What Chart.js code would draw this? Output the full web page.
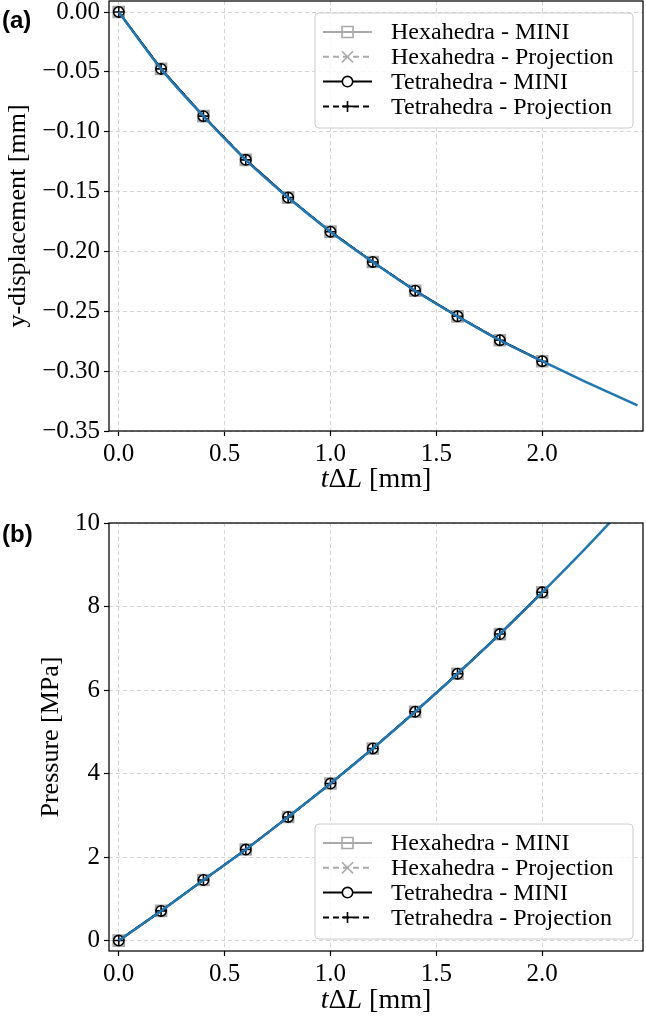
<!DOCTYPE html>
<html>
<head>
<meta charset="utf-8">
<script src="https://cdn.jsdelivr.net/npm/chart.js@4.4.1/dist/chart.umd.min.js"></script>
<style>
  html, body { margin: 0; padding: 0; background: #fff; }
  canvas { display: block; }
</style>
</head>
<body>
<canvas id="chartA" width="646" height="500"></canvas>
<canvas id="chartB" width="646" height="519"></canvas>
<script>
// load steps t*dL [mm] where the meshes were evaluated
var nodeT = [0.0, 0.2, 0.4, 0.6, 0.8, 1.0, 1.2, 1.4, 1.6, 1.8, 2.0];
// reference curve abscissae
var refT = [0.0, 0.2, 0.4, 0.6, 0.8, 1.0, 1.2, 1.4, 1.6, 1.8, 2.0, 2.2, 2.45];

// (a) y-displacement [mm]
var dispHexMini = [0.0, -0.0475, -0.0870, -0.1235, -0.1550, -0.1835, -0.2088, -0.2328, -0.2542, -0.2742, -0.2917];
var dispHexProj = [0.0, -0.0475, -0.0870, -0.1235, -0.1550, -0.1835, -0.2088, -0.2328, -0.2542, -0.2742, -0.2917];
var dispTetMini = [0.0, -0.0475, -0.0870, -0.1235, -0.1550, -0.1835, -0.2088, -0.2328, -0.2542, -0.2742, -0.2917];
var dispTetProj = [0.0, -0.0475, -0.0870, -0.1235, -0.1550, -0.1835, -0.2088, -0.2328, -0.2542, -0.2742, -0.2917];
var dispRef = [0.0, -0.0475, -0.0870, -0.1235, -0.1550, -0.1835, -0.2088, -0.2328, -0.2542, -0.2742, -0.2917, -0.3085, -0.3286];

// (b) pressure [MPa]
var presHexMini = [0.0, 0.71, 1.45, 2.18, 2.96, 3.76, 4.60, 5.48, 6.39, 7.34, 8.34];
var presHexProj = [0.0, 0.71, 1.45, 2.18, 2.96, 3.76, 4.60, 5.48, 6.39, 7.34, 8.34];
var presTetMini = [0.0, 0.71, 1.45, 2.18, 2.96, 3.76, 4.60, 5.48, 6.39, 7.34, 8.34];
var presTetProj = [0.0, 0.71, 1.45, 2.18, 2.96, 3.76, 4.60, 5.48, 6.39, 7.34, 8.34];
var presRef = [0.0, 0.71, 1.45, 2.18, 2.96, 3.76, 4.60, 5.48, 6.39, 7.34, 8.34, 9.37, 10.72];

var seriesNames = ['Hexahedra - MINI', 'Hexahedra - Projection', 'Tetrahedra - MINI', 'Tetrahedra - Projection'];

var xTicks = [0.0, 0.5, 1.0, 1.5, 2.0];
var xTickLabels = ['0.0', '0.5', '1.0', '1.5', '2.0'];
var yTicksA = [0.00, -0.05, -0.10, -0.15, -0.20, -0.25, -0.30, -0.35];
var yTickLabelsA = ['0.00', '\u22120.05', '\u22120.10', '\u22120.15', '\u22120.20', '\u22120.25', '\u22120.30', '\u22120.35'];
var yTicksB = [0, 2, 4, 6, 8, 10];
var yTickLabelsB = ['0', '2', '4', '6', '8', '10'];

var SERIF = '"Liberation Serif", "Times New Roman", serif';
var GREY = '#a9a9a9';
var BLUE = '#1f77b4';

Chart.defaults.font.family = SERIF;
Chart.defaults.color = '#000';

function pts(xs, ys) {
    return xs.map(function(x, i) { return {x: x, y: ys[i]}; });
}

function labelFor(ticks, labels) {
    return function(value) {
        for (var i = 0; i < ticks.length; i++) {
            if (Math.abs(ticks[i] - value) < 1e-9) return labels[i];
        }
        return '';
    };
}

// marker styles shared by plot and legend
var styles = [
    {color: GREY, dash: [], point: 'rect', radius: 7.8, fill: 'rgba(0,0,0,0)', order: 4},
    {color: GREY, dash: [6, 4], point: 'crossRot', radius: 7.8, fill: 'rgba(0,0,0,0)', order: 3},
    {color: '#000', dash: [], point: 'circle', radius: 5.2, fill: '#fff', order: 2},
    {color: '#000', dash: [6, 4], point: 'cross', radius: 5.5, fill: 'rgba(0,0,0,0)', order: 1}
];

function makeDatasets(series, refY) {
    var sets = series.map(function(ys, i) {
        var s = styles[i];
        return {
            label: seriesNames[i],
            data: pts(nodeT, ys),
            borderColor: s.color,
            borderWidth: 2,
            borderDash: s.dash,
            pointStyle: s.point,
            pointRadius: s.radius,
            pointBorderColor: s.color,
            pointBackgroundColor: s.fill,
            pointBorderWidth: 1.6,
            order: s.order
        };
    });
    sets.push({
        label: 'reference',
        data: pts(refT, refY),
        borderColor: BLUE,
        borderWidth: 2.5,
        pointRadius: 0,
        cubicInterpolationMode: 'monotone',
        order: 0
    });
    return sets;
}

function drawMarker(ctx, s, x, y) {
    ctx.save();
    ctx.setLineDash([]);
    ctx.strokeStyle = s.color;
    ctx.fillStyle = s.fill;
    ctx.lineWidth = 1.6;
    ctx.beginPath();
    var r = s.radius;
    if (s.point === 'rect') {
        var h = r * Math.SQRT1_2;
        ctx.rect(x - h, y - h, 2 * h, 2 * h);
        ctx.fill();
    } else if (s.point === 'crossRot') {
        var d = r * Math.SQRT1_2;
        ctx.moveTo(x - d, y - d); ctx.lineTo(x + d, y + d);
        ctx.moveTo(x - d, y + d); ctx.lineTo(x + d, y - d);
    } else if (s.point === 'circle') {
        ctx.arc(x, y, r, 0, Math.PI * 2);
        ctx.fill();
    } else {
        ctx.moveTo(x - r, y); ctx.lineTo(x + r, y);
        ctx.moveTo(x, y - r); ctx.lineTo(x, y + r);
    }
    ctx.stroke();
    ctx.restore();
}

function roundBox(ctx, x, y, w, h, r) {
    ctx.beginPath();
    ctx.moveTo(x + r, y);
    ctx.lineTo(x + w - r, y);
    ctx.arcTo(x + w, y, x + w, y + r, r);
    ctx.lineTo(x + w, y + h - r);
    ctx.arcTo(x + w, y + h, x + w - r, y + h, r);
    ctx.lineTo(x + r, y + h);
    ctx.arcTo(x, y + h, x, y + h - r, r);
    ctx.lineTo(x, y + r);
    ctx.arcTo(x, y, x + r, y, r);
    ctx.closePath();
}

// frame, inner legend, x title and panel letter, matplotlib style
function makeDecor(cfg) {
    return {
        id: 'decor',
        afterDatasetsDraw: function(chart) {
            var ctx = chart.ctx, a = chart.chartArea;
            var w = 318, h = 115;
            var x0 = a.right - 10 - w;
            var y0 = cfg.legendAt === 'top' ? a.top + 12 : a.bottom - 12 - h;
            ctx.save();
            roundBox(ctx, x0, y0, w, h, 4);
            ctx.fillStyle = 'rgba(255,255,255,0.8)';
            ctx.fill();
            ctx.strokeStyle = '#cccccc';
            ctx.lineWidth = 1;
            ctx.stroke();
            ctx.font = '24px ' + SERIF;
            ctx.textBaseline = 'middle';
            ctx.fillStyle = '#000';
            for (var i = 0; i < seriesNames.length; i++) {
                var s = styles[i];
                var cy = y0 + 19 + i * 24.8;
                ctx.save();
                ctx.strokeStyle = s.color;
                ctx.lineWidth = 2;
                ctx.setLineDash(s.dash);
                ctx.beginPath();
                ctx.moveTo(x0 + 8, cy);
                ctx.lineTo(x0 + 57, cy);
                ctx.stroke();
                ctx.restore();
                drawMarker(ctx, s, x0 + 32.5, cy);
                ctx.fillText(seriesNames[i], x0 + 76, cy + 1);
            }
            ctx.restore();
        },
        afterDraw: function(chart) {
            var ctx = chart.ctx, a = chart.chartArea;
            ctx.save();
            ctx.strokeStyle = '#000';
            ctx.lineWidth = 1.25;
            ctx.strokeRect(a.left, a.top, a.right - a.left, a.bottom - a.top);

            // x title: t (italic) Delta L (italic) [mm]
            var parts = [
                {t: 't', f: 'italic 28px ' + SERIF},
                {t: '\u0394', f: '28px ' + SERIF},
                {t: 'L', f: 'italic 28px ' + SERIF},
                {t: ' [mm]', f: '28px ' + SERIF}
            ];
            var total = 0;
            parts.forEach(function(p) { ctx.font = p.f; p.w = ctx.measureText(p.t).width; total += p.w; });
            var x = (a.left + a.right) / 2 - total / 2;
            var base = a.bottom + cfg.titleOffset;
            ctx.fillStyle = '#000';
            ctx.textBaseline = 'alphabetic';
            parts.forEach(function(p) { ctx.font = p.f; ctx.fillText(p.t, x, base); x += p.w; });

            ctx.font = 'bold 24px "Liberation Sans", Arial, sans-serif';
            ctx.fillText(cfg.panel, 2, cfg.panelBase);
            ctx.restore();
        }
    };
}

function makeScales(cfg) {
    var gridOpts = {color: '#d4d4d4', lineWidth: 1, tickLength: 5, tickColor: '#000', tickWidth: 1.2};
    return {
        x: {
            type: 'linear',
            min: -0.046,
            max: 2.476,
            afterBuildTicks: function(axis) {
                axis.ticks = xTicks.map(function(v) { return {value: v}; });
            },
            afterFit: function(axis) {
                axis.height = cfg.xAxisHeight;
                axis.paddingLeft = 0;
                axis.paddingRight = 0;
            },
            ticks: {
                font: {size: 25},
                color: '#000',
                padding: 3,
                autoSkip: false,
                maxRotation: 0,
                callback: labelFor(xTicks, xTickLabels)
            },
            grid: gridOpts,
            border: {display: false, dash: [4, 3]}
        },
        y: {
            type: 'linear',
            min: cfg.yMin,
            max: cfg.yMax,
            afterBuildTicks: function(axis) {
                axis.ticks = cfg.yTicks.map(function(v) { return {value: v}; });
            },
            afterFit: function(axis) {
                axis.width = 109;
                axis.paddingTop = 0;
                axis.paddingBottom = 0;
            },
            ticks: {
                font: {size: 25},
                color: '#000',
                padding: 4,
                autoSkip: false,
                callback: labelFor(cfg.yTicks, cfg.yLabels)
            },
            grid: gridOpts,
            border: {display: false, dash: [4, 3]},
            title: {
                display: true,
                text: cfg.yTitle,
                font: {size: 26},
                color: '#000',
                padding: {top: cfg.yTitlePad, bottom: 0}
            }
        }
    };
}

var chartA = new Chart(document.getElementById('chartA').getContext('2d'), {
    type: 'line',
    data: {datasets: makeDatasets([dispHexMini, dispHexProj, dispTetMini, dispTetProj], dispRef)},
    options: {
        responsive: false,
        animation: false,
        events: [],
        layout: {autoPadding: false, padding: {top: 1, right: 3, left: 0, bottom: 0}},
        plugins: {legend: {display: false}, tooltip: {enabled: false}},
        scales: makeScales({
            xAxisHeight: 69,
            yMin: -0.35, yMax: 0.0092,
            yTicks: yTicksA, yLabels: yTickLabelsA,
            yTitle: 'y-displacement [mm]', yTitlePad: 3
        })
    },
    plugins: [makeDecor({legendAt: 'top', titleOffset: 56, panel: '(a)', panelBase: 28})]
});

var chartB = new Chart(document.getElementById('chartB').getContext('2d'), {
    type: 'line',
    data: {datasets: makeDatasets([presHexMini, presHexProj, presTetMini, presTetProj], presRef)},
    options: {
        responsive: false,
        animation: false,
        events: [],
        layout: {autoPadding: false, padding: {top: 23, right: 3, left: 0, bottom: 0}},
        plugins: {legend: {display: false}, tooltip: {enabled: false}},
        scales: makeScales({
            xAxisHeight: 68,
            yMin: -0.25, yMax: 10,
            yTicks: yTicksB, yLabels: yTickLabelsB,
            yTitle: 'Pressure [MPa]', yTitlePad: 36
        })
    },
    plugins: [makeDecor({legendAt: 'bottom', titleOffset: 57, panel: '(b)', panelBase: 42})]
});
</script>
</body>
</html>
